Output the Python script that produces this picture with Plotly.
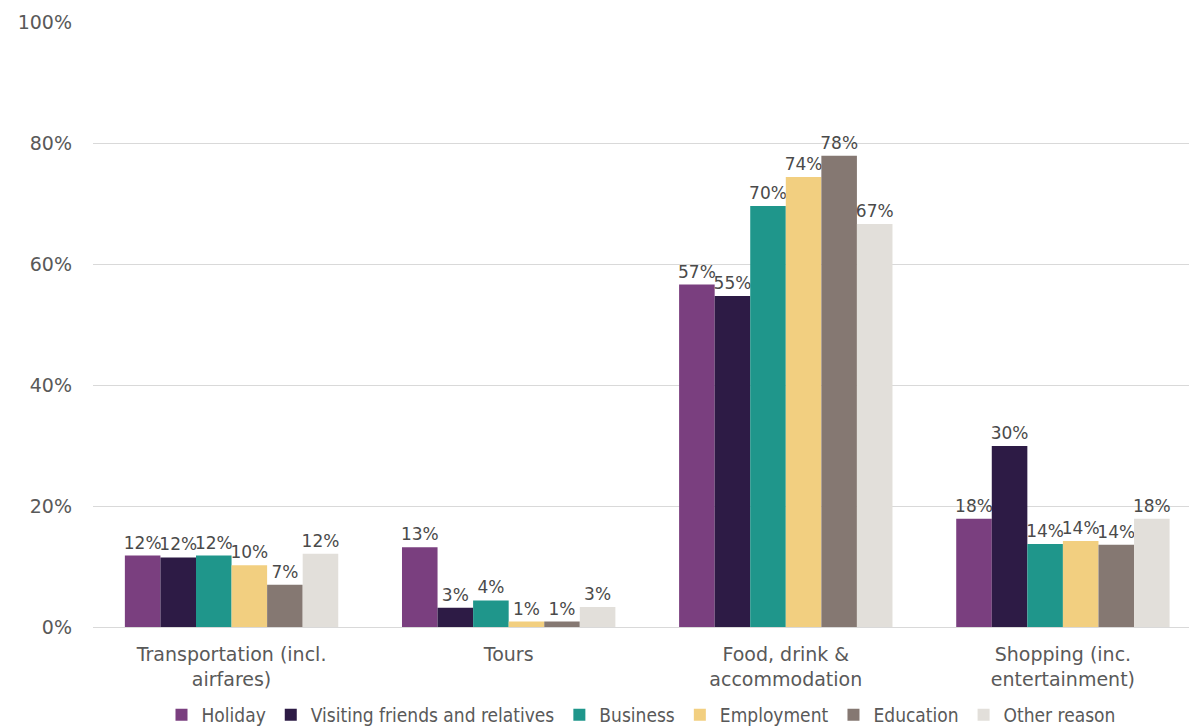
import plotly.graph_objects as go

categories = ["Transportation (incl.<br>airfares)", "Tours", "Food, drink &<br>accommodation", "Shopping (inc.<br>entertainment)"]
series_names = ["Holiday", "Visiting friends and relatives", "Business", "Employment", "Education", "Other reason"]

holiday = [11.8, 13.2, 56.6, 17.9]
vfr = [11.5, 3.2, 54.7, 29.9]
business = [11.8, 4.4, 69.6, 13.7]
employment = [10.2, 0.9, 74.4, 14.2]
education = [7.0, 0.9, 77.9, 13.6]
other = [12.1, 3.3, 66.6, 17.9]

ytick_vals = [0, 20, 40, 60, 80, 100]
ytick_text = ["0%", "20%", "40%", "60%", "80%", "100%"]

series_values = [holiday, vfr, business, employment, education, other]
colors = ["#7A3F7F", "#2D1B45", "#1F968B", "#F2CF80", "#857872", "#E2DFDA"]

fig = go.Figure()
for name, vals, col in zip(series_names, series_values, colors):
    fig.add_trace(go.Bar(
        name=name, x=categories, y=vals,
        marker=dict(color=col, line=dict(width=0)),
        text=[f"{round(v)}%" for v in vals],
        textposition="outside",
        textfont=dict(family="DejaVu Sans", size=17, color="#4A4A4A"),
        constraintext="none",
        cliponaxis=False,
    ))

fig.update_layout(
    width=1189, height=728,
    margin=dict(l=93, r=0, t=22, b=101),
    barmode="group", bargap=0.23, bargroupgap=0,
    plot_bgcolor="white", paper_bgcolor="white",
    font=dict(family="DejaVu Sans", size=17, color="#595959"),
    yaxis=dict(range=[0, 100], tickvals=ytick_vals, ticktext=ytick_text,
               showgrid=True, gridcolor="#D9D9D9", gridwidth=1, zeroline=False,
               tickfont=dict(size=19, color="#595959"), ticks="", ticklabelstandoff=20,
               automargin=False),
    xaxis=dict(range=[-0.5, 3.455], showline=True, linecolor="#D9D9D9", linewidth=1,
               tickfont=dict(size=19, color="#595959"), automargin=False, ticks="",
               ticklabelstandoff=10),
    legend=dict(orientation="h", x=0.5, xanchor="center", yref="container", y=0.018,
                yanchor="middle",
                font=dict(family="DejaVu Sans Condensed", size=19, color="#595959"),
                itemwidth=30, traceorder="normal", tracegroupgap=0),
    showlegend=True,
)

fig.write_html("out.html")
